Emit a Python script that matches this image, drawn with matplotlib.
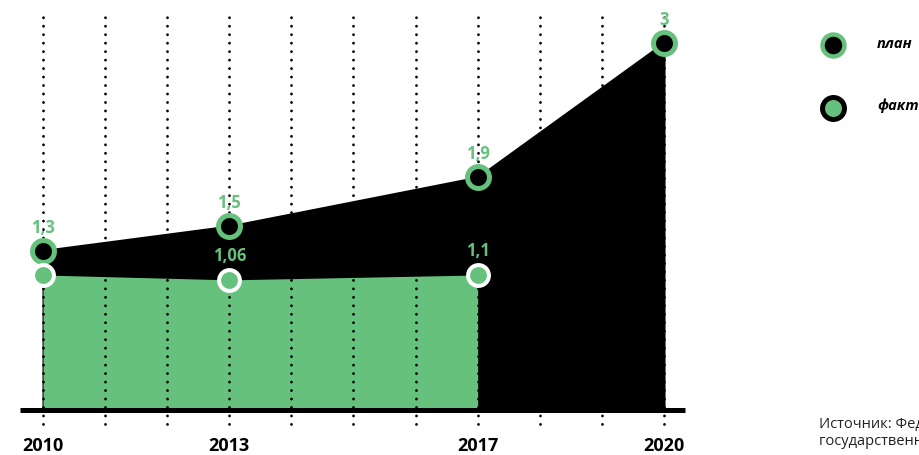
import matplotlib
matplotlib.use("Agg")
import matplotlib.pyplot as plt
from matplotlib.lines import Line2D

# Data
plan_years = [2010, 2013, 2017, 2020]
plan_values = [1.3, 1.5, 1.9, 3.0]
plan_labels = ["1,3", "1,5", "1,9", "3"]

fact_years = [2010, 2013, 2017]
fact_values = [1.1, 1.06, 1.1]
fact_labels = [None, "1,06", "1,1"]

tick_years = [2010, 2013, 2017, 2020]
grid_years = list(range(2010, 2021))

legend_labels = ["план", "факт"]
source_text = "Источник: Федеральная служба\nгосударственной статистики"

GREEN = "#66C17C"
BLACK = "#000000"

plt.rcParams["font.family"] = ["Open Sans", "DejaVu Sans"]

W, H = 919, 455
fig = plt.figure(figsize=(W / 100, H / 100), dpi=100)

# Axes placed so the chart occupies the left part of the canvas
left_px, right_px = 20, 685
zero_px, top_px = 409.5, 17
ax = fig.add_axes([left_px / W, (H - zero_px) / H,
                   (right_px - left_px) / W, (zero_px - top_px) / H])
px_per_year = 62.1
ax.set_xlim(2010 - (43 - left_px) / px_per_year,
            2020 + (right_px - 664) / px_per_year)
px_per_unit = 122.3
ax.set_ylim(0, (zero_px - top_px) / px_per_unit)
ax.axis("off")

# Filled areas
ax.fill_between(plan_years, 0, plan_values, color=BLACK, lw=1.5,
                edgecolor=BLACK, zorder=1)
ax.fill_between(fact_years, 0, fact_values, color=GREEN, lw=0, zorder=2)

# Dotted vertical guides for every year
ymax = ax.get_ylim()[1]
for yr in grid_years:
    ax.plot([yr, yr], [-0.115, ymax], color=BLACK, lw=2.0,
            dashes=(0.05, 3.0), dash_capstyle="round", zorder=3,
            clip_on=False)

# Baseline
ax.plot([ax.get_xlim()[0], ax.get_xlim()[1]], [0, 0], color=BLACK,
        lw=3.6, solid_capstyle="butt", zorder=4, clip_on=False)

# Markers
ax.plot(plan_years, plan_values, ls="none", marker="o", ms=15.8,
        mfc=BLACK, mec=GREEN, mew=3.6, zorder=6, clip_on=False)
ax.plot(fact_years, fact_values, ls="none", marker="o", ms=15.0,
        mfc=GREEN, mec="white", mew=2.9, zorder=6, clip_on=False)

# Value labels
for x, v, lab in zip(plan_years, plan_values, plan_labels):
    ax.annotate(lab, (x, v), xytext=(0, 16.5), textcoords="offset points",
                ha="center", va="center", color=GREEN, fontsize=12,
                fontweight="bold", zorder=7, annotation_clip=False)
for x, v, lab in zip(fact_years, fact_values, fact_labels):
    if lab:
        ax.annotate(lab, (x, v), xytext=(0, 17), textcoords="offset points",
                    ha="center", va="center", color=GREEN, fontsize=12,
                    fontweight="bold", zorder=7, annotation_clip=False)

# Year labels
for yr in tick_years:
    ax.annotate(str(yr), (yr, 0), xytext=(0, -26), textcoords="offset points",
                ha="center", va="center", color=BLACK, fontsize=13,
                fontweight="bold", annotation_clip=False)

# Legend drawn by hand on the right side
def fig_xy(px, py):
    return px / W, (H - py) / H

mx, my = fig_xy(833, 45)
fig.add_artist(Line2D([mx], [my], marker="o", ms=15.8, mfc=BLACK, mec=GREEN,
                      mew=3.2, transform=fig.transFigure))
tx, ty = fig_xy(877, 44)
fig.text(tx, ty, legend_labels[0], ha="left", va="center", fontsize=10.5,
         fontweight="bold", fontstyle="italic", color=BLACK)

mx, my = fig_xy(833, 108)
fig.add_artist(Line2D([mx], [my], marker="o", ms=15.8, mfc=GREEN, mec=BLACK,
                      mew=3.6, transform=fig.transFigure))
tx, ty = fig_xy(877, 106)
fig.text(tx, ty, legend_labels[1], ha="left", va="center", fontsize=10.5,
         fontweight="bold", fontstyle="italic", color=BLACK)

# Source note
sx, sy = fig_xy(819, 433)
fig.text(sx, sy, source_text, ha="left", va="center", fontsize=10.5,
         color="#222222", linespacing=1.2)

fig.savefig("out.png", dpi=100)
